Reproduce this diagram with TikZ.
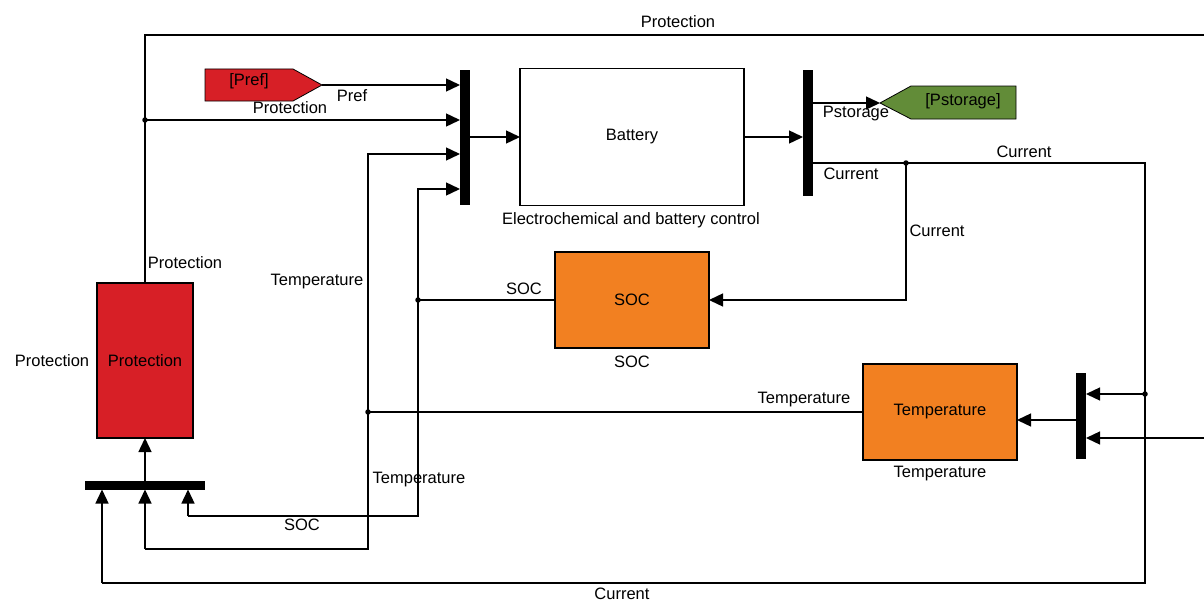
\documentclass[tikz,border=0pt]{standalone}
\usepackage{fontspec}
\setmainfont{Liberation Sans}
\usetikzlibrary{arrows.meta}
\definecolor{protred}{RGB}{215,31,38}
\definecolor{blkorange}{RGB}{242,128,33}
\definecolor{taggreen}{RGB}{98,140,56}
\begin{document}
\begin{tikzpicture}[x=1pt,y=-1pt,line width=1.4pt,
  >={Triangle[length=14pt,width=13pt]},
  font=\fontsize{16.5}{19}\selectfont,
  blk/.style={draw,inner sep=0pt,outer sep=0pt},
  bar/.style={fill=black,draw=none,inner sep=0pt,outer sep=0pt},
  lbl/.style={inner sep=0pt,text=black},
  dot/.style={circle,fill=black,inner sep=0pt,minimum size=5.5pt}]
\useasboundingbox (0,0) rectangle (1204,602);

% blocks
\node[blk,fill=protred,minimum width=96pt,minimum height=155pt] (prot) at (145,360.5) {Protection};
\node[blk,fill=white,minimum width=224pt,minimum height=137pt] (bat) at (632,137) {Battery};
\node[blk,fill=blkorange,minimum width=154pt,minimum height=96pt] (soc) at (632,300) {SOC};
\node[blk,fill=blkorange,minimum width=154pt,minimum height=96pt] (temp) at (940,412) {Temperature};

% bars
\node[bar,minimum width=10pt,minimum height=135pt] (mux1) at (465,137.5) {};
\node[bar,minimum width=10pt,minimum height=126pt] (mux2) at (808,133) {};
\node[bar,minimum width=120pt,minimum height=9pt] (mux3) at (145,485) {};
\node[bar,minimum width=10pt,minimum height=86pt] (mux4) at (1081,416) {};

% tags
\fill[protred] (205,69) -- (293,69) -- (322,85) -- (293,101) -- (205,101) -- cycle;
\draw[line width=0.8pt] (205,69) -- (293,69) -- (322,85) -- (293,101) -- (205,101) -- cycle;
\node[lbl] (preftxt) at (249,81) {[Pref]};
\coordinate (preft) at (322,85);
\fill[taggreen] (880,103) -- (911,86) -- (1016,86) -- (1016,119) -- (911,119) -- cycle;
\draw[line width=0.8pt] (880,103) -- (911,86) -- (1016,86) -- (1016,119) -- (911,119) -- cycle;
\node[lbl] (psttxt) at (963,101) {[Pstorage]};
\coordinate (pst) at (880,103);

% coordinates
\coordinate (jp) at (145,120);
\coordinate (ptop1) at (145,35);
\coordinate (ptop2) at (1204,35);
\coordinate (m1a) at (460,85);
\coordinate (m1b) at (460,120);
\coordinate (m1c) at (460,154);
\coordinate (m1d) at (460,189);
\coordinate (m2a) at (813,103);
\coordinate (m2b) at (813,163);
\coordinate (jc1) at (906,163);
\coordinate (c1) at (1145,163);
\coordinate (c2) at (906,300);
\coordinate (js) at (418,300);
\coordinate (s1) at (418,189);
\coordinate (s2) at (418,516);
\coordinate (s3) at (188,516);
\coordinate (b3c) at (188,489.5);
\coordinate (jt) at (368,412);
\coordinate (t1) at (368,154);
\coordinate (t2) at (368,549);
\coordinate (t3) at (145,549);
\coordinate (b3b) at (145,489.5);
\coordinate (c3) at (1145,583);
\coordinate (c4) at (102,583);
\coordinate (b3a) at (102,489.5);
\coordinate (jc2) at (1145,394);
\coordinate (m4a) at (1086,394);
\coordinate (m4r) at (1204,438);
\coordinate (m4b) at (1086,438);
\coordinate (m4o) at (1076,420);
\coordinate (tin) at (1017,420);

% connectors
\draw (prot.north) -- (ptop1) -- (ptop2);
\draw[->] (jp) -- (m1b);
\draw[->] (preft) -- (m1a);
\draw[->] (mux1.east |- bat.west) -- (bat.west);
\draw[->] (bat.east) -- (bat.east -| mux2.west);
\draw[->] (m2a) -- (pst);
\draw (m2b) -- (c1) -- (c3) -- (c4);
\draw[->] (c4) -- (b3a);
\draw[->] (jc1) -- (c2) -- (soc.east);
\draw (soc.west) -- (js);
\draw[->] (js) -- (s1) -- (m1d);
\draw (js) -- (s2) -- (s3);
\draw[->] (s3) -- (b3c);
\draw (temp.west) -- (jt);
\draw[->] (jt) -- (t1) -- (m1c);
\draw (jt) -- (t2) -- (t3);
\draw[->] (t3) -- (b3b);
\draw[->] (mux3.north) -- (prot.south);
\draw[->] (jc2) -- (m4a);
\draw[->] (m4r) -- (m4b);
\draw[->] (m4o) -- (tin);

% junction dots
\node[dot] at (jp) {};
\node[dot] at (jc1) {};
\node[dot] at (js) {};
\node[dot] at (jt) {};
\node[dot] at (jc2) {};

% labels
\node[lbl] at (678,22) {Protection};
\node[lbl] at (352,96) {Pref};
\node[lbl] at (290,108) {Protection};
\node[lbl] at (631,220) {Electrochemical and battery control};
\node[lbl] at (856,114) {Pstorage};
\node[lbl] at (851,174) {Current};
\node[lbl] at (1024,152) {Current};
\node[lbl] at (937,231) {Current};
\node[lbl] at (622,594) {Current};
\node[lbl] at (524,289) {SOC};
\node[lbl] at (632,362) {SOC};
\node[lbl] at (302,525) {SOC};
\node[lbl] at (317,282) {Temperature};
\node[lbl] at (804,400) {Temperature};
\node[lbl,anchor=west] at (372,480) {Temperature};
\node[lbl] at (940,474) {Temperature};
\node[lbl] at (52,361) {Protection};
\node[lbl] at (185,263) {Protection};
\end{tikzpicture}
\end{document}
